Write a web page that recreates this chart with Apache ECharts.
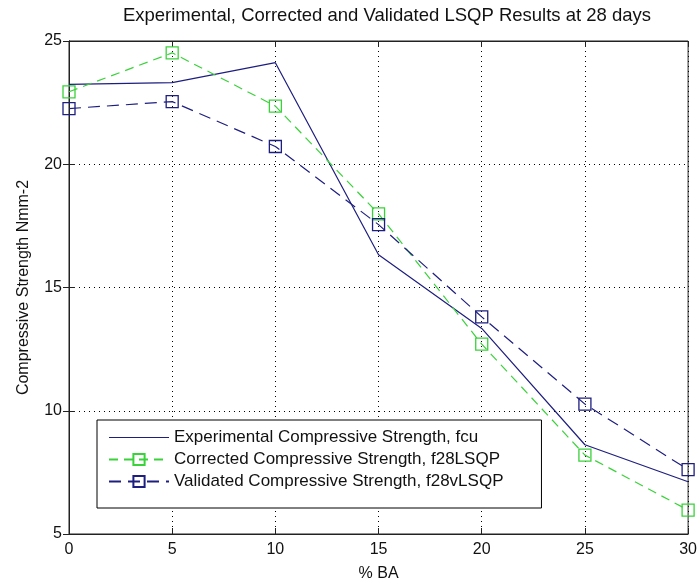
<!DOCTYPE html>
<html>
<head>
<meta charset="utf-8">
<script src="https://cdn.jsdelivr.net/npm/echarts@6/dist/echarts.min.js"></script>
<style>html,body{margin:0;padding:0;background:#fff;}#c{width:700px;height:587px;}</style>
</head>
<body>
<div id="c"></div>
<script>
const xValues = [0, 5, 10, 15, 20, 25, 30];
const experimental = [23.24, 23.31, 24.12, 16.33, 13.34, 8.62, 7.12];
const corrected = [22.94, 24.52, 22.36, 17.99, 12.70, 8.20, 5.97];
const validated = [22.26, 22.54, 20.72, 17.55, 13.81, 10.27, 7.61];
const seriesNames = [
  'Experimental Compressive Strength, fcu',
  'Corrected Compressive Strength, f28LSQP',
  'Validated Compressive Strength, f28vLSQP'
];
const titleText = 'Experimental, Corrected and Validated LSQP Results at 28 days';
const xName = '% BA';
const yName = 'Compressive Strength Nmm-2';

const FONT = '"Liberation Sans", Arial, sans-serif';
const NAVY = '#1e1e80';
const GREEN = '#3ad23a';
const pairs = v => xValues.map((x, i) => [x, v[i]]);
const lineIcon = 'path://M0,0H0.01V0.01H0Z M0,6.5H60V7.5H0Z M59.99,13.99H60V14H59.99Z';

const chart = echarts.init(document.getElementById('c'), null, {renderer: 'canvas'});
const gridLine = {show: true, lineStyle: {color: '#000', type: [1, 4], width: 1}};
chart.setOption({
  backgroundColor: '#fff',
  animation: false,
  title: {
    text: titleText, left: 382, top: 1, textAlign: 'center',
    textStyle: {fontFamily: FONT, fontSize: 18.5, fontWeight: 'normal', color: '#111'}
  },
  grid: {left: 69, right: 5, top: 41, bottom: 50, show: true, borderColor: '#222', borderWidth: 1, backgroundColor: 'transparent'},
  legend: {
    orient: 'vertical', left: 97, top: 420,
    itemWidth: 60, itemHeight: 14, itemGap: 5,
    padding: [9, 38, 18, 11],
    backgroundColor: '#fff', borderColor: '#000', borderWidth: 1, borderRadius: 0,
    textStyle: {fontFamily: FONT, fontSize: 17, color: '#111'},
    data: [
      {name: seriesNames[0], icon: lineIcon, itemStyle: {color: NAVY}},
      {name: seriesNames[1]},
      {name: seriesNames[2]}
    ]
  },
  xAxis: [{
    type: 'value', min: 0, max: 30, interval: 5,
    name: xName, nameLocation: 'middle', nameGap: 32,
    nameTextStyle: {fontFamily: FONT, fontSize: 16, color: '#111'},
    axisLine: {show: true, lineStyle: {color: '#222'}},
    axisTick: {show: true, inside: true, length: 6, lineStyle: {color: '#222'}},
    axisLabel: {fontFamily: FONT, fontSize: 16, color: '#111', margin: 8},
    splitLine: gridLine
  }, {
    type: 'value', min: 0, max: 30, interval: 5, position: 'top',
    axisLine: {show: true, lineStyle: {color: '#222'}},
    axisTick: {show: true, inside: true, length: 6, lineStyle: {color: '#222'}},
    axisLabel: {show: false}, splitLine: {show: false}
  }],
  yAxis: [{
    type: 'value', min: 5, max: 25, interval: 5,
    name: yName, nameLocation: 'middle', nameGap: 37, nameRotate: 90,
    nameTextStyle: {fontFamily: FONT, fontSize: 16, color: '#111'},
    axisLine: {show: true, lineStyle: {color: '#222'}},
    axisTick: {show: true, inside: true, length: 6, lineStyle: {color: '#222'}},
    axisLabel: {fontFamily: FONT, fontSize: 16, color: '#111', margin: 7},
    splitLine: gridLine
  }, {
    type: 'value', min: 5, max: 25, interval: 5, position: 'right',
    axisLine: {show: true, lineStyle: {color: '#222'}},
    axisTick: {show: true, inside: true, length: 6, lineStyle: {color: '#222'}},
    axisLabel: {show: false}, splitLine: {show: false}
  }],
  series: [{
    name: seriesNames[0], type: 'line', data: pairs(experimental),
    symbol: 'none', lineStyle: {color: NAVY, width: 1.2, type: 'solid'},
    itemStyle: {color: NAVY}
  }, {
    name: seriesNames[1], type: 'line', data: pairs(corrected),
    symbol: 'rect', symbolSize: 12,
    lineStyle: {color: GREEN, width: 1.2, type: [9, 6]},
    itemStyle: {color: 'rgba(255,255,255,0)', borderColor: GREEN, borderWidth: 1.3}
  }, {
    name: seriesNames[2], type: 'line', data: pairs(validated),
    symbol: 'rect', symbolSize: 12,
    lineStyle: {color: NAVY, width: 1.2, type: [12, 7]},
    itemStyle: {color: 'rgba(255,255,255,0)', borderColor: NAVY, borderWidth: 1.3}
  }]
});
</script>
</body>
</html>
